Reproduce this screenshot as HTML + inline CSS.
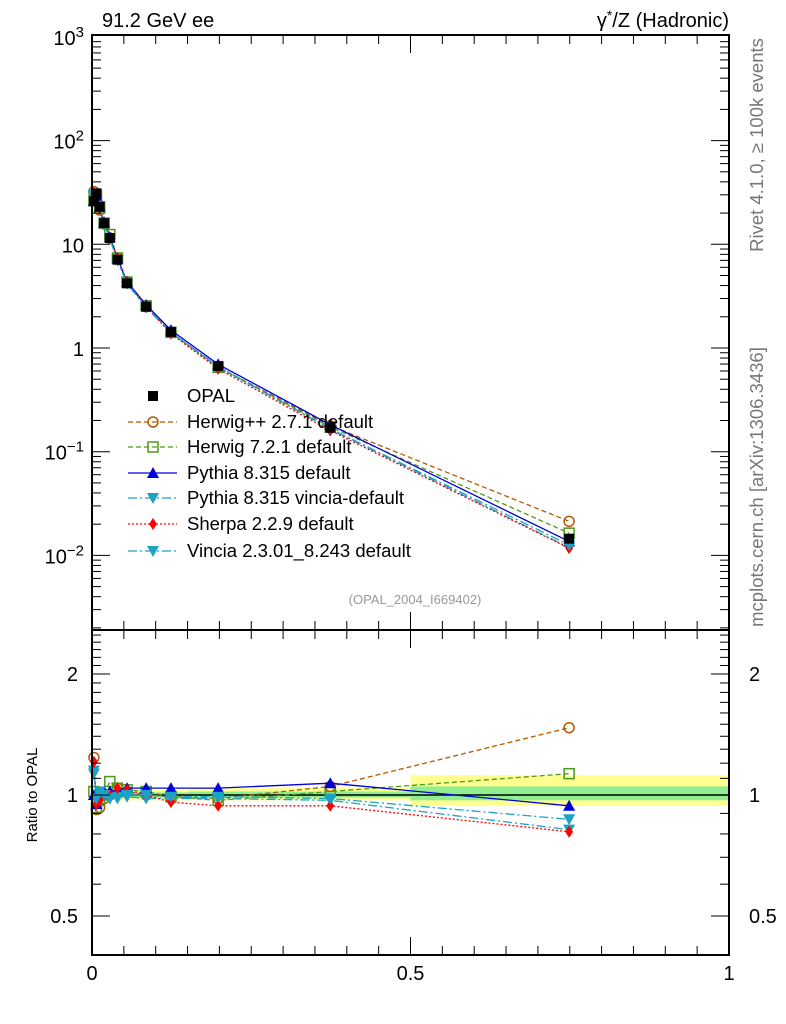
<!DOCTYPE html>
<html><head><meta charset="utf-8"><style>
body{margin:0;background:#fff}
svg{display:block;font-family:"Liberation Sans",sans-serif}
</style></head><body>
<svg id="c" width="786" height="1024"></svg>
<script>
const opal=[26,31,23,16,11.5,7.1,4.2,2.5,1.43,0.67,0.17,0.0145];
const xvals=[0.003,0.007,0.012,0.019,0.028,0.04,0.055,0.085,0.124,0.198,0.374,0.749];
const rHerwigPP=[1.24,0.92,0.93,0.98,1.0,1.04,1.02,1.0,0.99,0.98,1.05,1.47];
const rHerwig7=[1.02,0.93,0.97,1.0,1.08,1.04,1.03,1.02,0.99,0.97,1.02,1.13];
const rPythia=[1.0,0.95,1.0,1.02,1.02,1.03,1.04,1.04,1.04,1.04,1.07,0.94];
const rPyVincia=[1.15,0.97,1.0,1.0,0.98,0.99,0.99,0.98,0.98,0.98,0.97,0.82];
const rSherpa=[1.21,0.95,0.97,1.0,1.0,1.04,1.03,1.0,0.96,0.94,0.94,0.81];
const rVincia=[1.13,0.98,1.02,1.0,0.98,0.98,1.0,1.0,0.99,0.99,0.98,0.87];
const bandEdges=[0,0.15,0.5,1];
const bandYellow=[[0.97,1.03],[0.97,1.04],[0.94,1.12]];
const bandGreen=[[0.985,1.015],[0.985,1.02],[0.97,1.05]];
const yTicks=[[1000,'10<tspan dy="-8" font-size="15">3</tspan>'],[100,'10<tspan dy="-8" font-size="15">2</tspan>'],[10,'10'],[1,'1'],[0.1,'10<tspan dy="-8" font-size="15">−1</tspan>'],[0.01,'10<tspan dy="-8" font-size="15">−2</tspan>']];
const rTicks=[0.5,1,2];
const xTicks=[0,0.5,1];

const L=92,R=729,T=35,M=630,B=955;
const X=v=>L+v*(R-L);
const Y=v=>348-103.7*Math.log10(v);
const RY=v=>795-121*Math.log2(v);
const svg=document.getElementById('c');
const NS='http://www.w3.org/2000/svg';
function mk(tag,a,parent){const e=document.createElementNS(NS,tag);for(const k in a)e.setAttribute(k,a[k]);(parent||svg).appendChild(e);return e;}
function txt(x,y,s,a){const e=mk('text',Object.assign({x:x,y:y,'font-size':20,fill:'#000'},a||{}));e.innerHTML=s;return e;}

bandYellow.forEach((b,i)=>{const r=mk('rect',{x:X(bandEdges[i]),y:RY(b[1]),width:X(bandEdges[i+1])-X(bandEdges[i]),height:RY(b[0])-RY(b[1]),fill:'#ffff90'});

});
bandGreen.forEach((b,i)=>{const r=mk('rect',{x:X(bandEdges[i]),y:RY(b[1]),width:X(bandEdges[i+1])-X(bandEdges[i]),height:RY(b[0])-RY(b[1]),fill:'#90ee90'});

});
mk('line',{x1:L,x2:R,y1:RY(1),y2:RY(1),stroke:'#000','stroke-width':1.5});

const series=[
 {name:'Herwig++ 2.7.1 default',c:'#b35900',d:'5,3',m:'circle',r:rHerwigPP},
 {name:'Herwig 7.2.1 default',c:'#4c9a1a',d:'5,3',m:'square',r:rHerwig7},
 {name:'Pythia 8.315 default',c:'#0000dd',d:'',m:'tri',r:rPythia},
 {name:'Pythia 8.315 vincia-default',c:'#1ca3c4',d:'9,3,2,3',m:'itri',r:rPyVincia},
 {name:'Sherpa 2.2.9 default',c:'#ff0000',d:'2,2',m:'diamond',r:rSherpa},
 {name:'Vincia 2.3.01_8.243 default',c:'#1ca3c4',d:'9,3,2,3',m:'itri',r:rVincia}
];
function marker(m,x,y,c,nm){let e;
 if(m=='circle')e=mk('circle',{cx:x,cy:y,r:5,fill:'none',stroke:c,'stroke-width':1.5});
 else if(m=='square')e=mk('rect',{x:x-5,y:y-5,width:10,height:10,fill:'none',stroke:c,'stroke-width':1.5});
 else if(m=='tri')e=mk('polygon',{points:`${x-6},${y+5} ${x+6},${y+5} ${x},${y-6}`,fill:c});
 else if(m=='itri')e=mk('polygon',{points:`${x-6},${y-5} ${x+6},${y-5} ${x},${y+6}`,fill:c});
 else if(m=='diamond')e=mk('polygon',{points:`${x},${y-6} ${x+4},${y} ${x},${y+6} ${x-4},${y}`,fill:c});
 else e=mk('rect',{x:x-5,y:y-5,width:10,height:10,fill:c});
 
 }

series.forEach(s=>{
 const pr=xvals.map((x,i)=>X(x)+','+RY(s.r[i])).join(' ');
 const pl=mk('polyline',{points:pr,fill:'none',stroke:s.c,'stroke-width':1.3,'stroke-dasharray':s.d});
 
 
 const pm=xvals.map((x,i)=>X(x)+','+Y(opal[i]*s.r[i])).join(' ');
 const pl2=mk('polyline',{points:pm,fill:'none',stroke:s.c,'stroke-width':1.3,'stroke-dasharray':s.d});
 
 
 xvals.forEach((x,i)=>{marker(s.m,X(x),RY(s.r[i]),s.c,'ratio-point');marker(s.m,X(x),Y(opal[i]*s.r[i]),s.c,'mc-point');});
});
xvals.forEach((x,i)=>marker('sq',X(x),Y(opal[i]),'#000','opal-point'));

[[T,M],[M,B]].forEach(([a,b])=>{const f=mk('rect',{x:L,y:a,width:R-L,height:b-a,fill:'none',stroke:'#000','stroke-width':2});

});
for(let e=-3;e<3;e++)for(let k=1;k<10;k++){const v=k*Math.pow(10,e);const y=Y(v);if(y<T||y>M)continue;const len=k==1?18:9;
 mk('line',{x1:L,x2:L+len,y1:y,y2:y,stroke:'#000'});mk('line',{x1:R,x2:R-len,y1:y,y2:y,stroke:'#000'});}
yTicks.forEach(([v,s])=>{const t=txt(L-8,Y(v)+8,s,{'text-anchor':'end'});

});
for(let v=0.4;v<=2.6;v+=0.1){const y=RY(v);if(y<M||y>B)continue;const major=Math.abs(v-1)<1e-6||Math.abs(v-2)<1e-6||Math.abs(v-0.5)<1e-6;const len=major?18:9;
 mk('line',{x1:L,x2:L+len,y1:y,y2:y,stroke:'#000'});mk('line',{x1:R,x2:R-len,y1:y,y2:y,stroke:'#000'});}
rTicks.forEach(v=>{const t=txt(L-14,RY(v)+7,String(v),{'text-anchor':'end'});


const t2=txt(R+20,RY(v)+7,String(v),{'text-anchor':'start'});

});
for(let v=0;v<=1.0001;v+=0.05){const x=X(v);const major=Math.abs(v*2-Math.round(v*2))<1e-6;const len=major?18:9;
 [T,M].forEach(a=>mk('line',{x1:x,x2:x,y1:a,y2:a+len,stroke:'#000'}));[M,B].forEach(b=>mk('line',{x1:x,x2:x,y1:b,y2:b-len,stroke:'#000'}));}
xTicks.forEach(v=>{const t=txt(X(v),980,String(v),{'text-anchor':'middle'});

});

const lg=[{name:'OPAL',m:'sq',c:'#000',d:null}].concat(series);
const ly=[396,422,447,473,498,524,551];
lg.forEach((s,i)=>{const y=ly[i];
 if(s.d!==null){mk('line',{x1:128,x2:177,y1:y,y2:y,stroke:s.c,'stroke-width':1.3,'stroke-dasharray':s.d});}
 marker(s.m,153,y,s.c,'legend-marker');
 const t=txt(187,y+6,s.name,{'font-size':18.5});
 
 });

let t;
t=txt(102,27,'91.2 GeV ee',{'font-size':20});
t=txt(729,27,'γ<tspan dy="-7" font-size="14">*</tspan><tspan dy="7">/Z (Hadronic)</tspan>',{'font-size':20,'text-anchor':'end'});
t=txt(415,604,'(OPAL_2004_I669402)',{'font-size':13,fill:'#999','text-anchor':'middle'});
t=txt(0,0,'Ratio to OPAL',{'font-size':15,'text-anchor':'middle',transform:'translate(37,795) rotate(-90)'});
t=txt(0,0,'Rivet 4.1.0, ≥ 100k events',{'font-size':18.5,fill:'#777','text-anchor':'middle',transform:'translate(763,145) rotate(-90)'});
t=txt(0,0,'mcplots.cern.ch [arXiv:1306.3436]',{'font-size':18.5,fill:'#777','text-anchor':'middle',transform:'translate(763,487) rotate(-90)'});
</script>
</body></html>
